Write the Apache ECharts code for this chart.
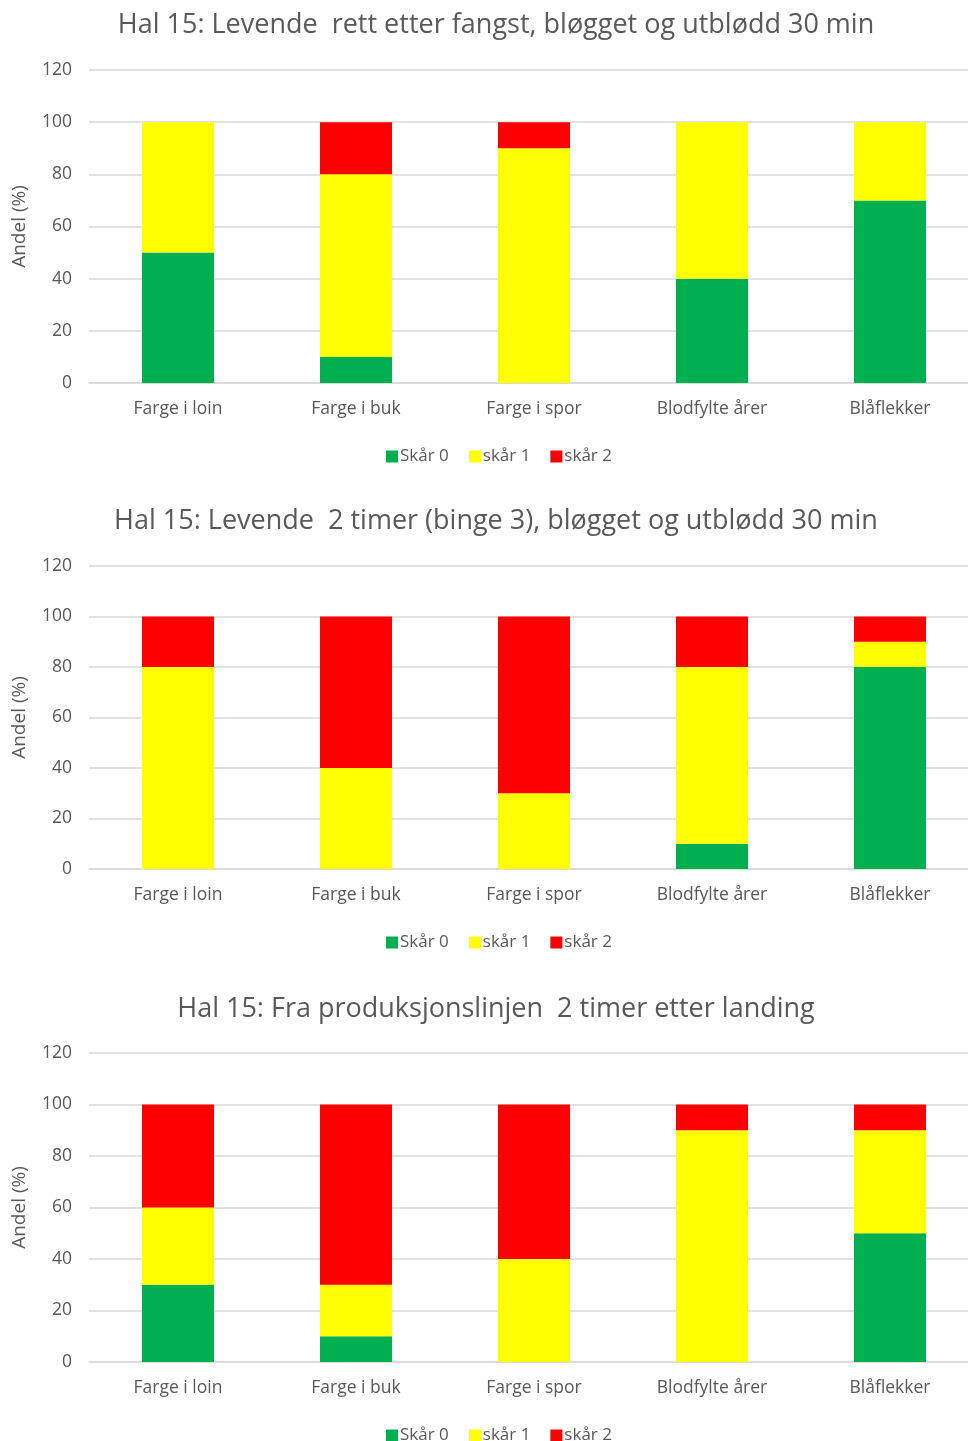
<!DOCTYPE html>
<html>
<head>
<meta charset="utf-8">
<script src="https://cdn.jsdelivr.net/npm/echarts@6/dist/echarts.min.js"></script>
<style>
  html, body { margin: 0; padding: 0; background: #fff; }
  #main { width: 968px; height: 1441px; }
</style>
</head>
<body>
<div id="main"></div>
<script>
// categories and series values
var categories = ['Farge i loin', 'Farge i buk', 'Farge i spor', 'Blodfylte årer', 'Blåflekker'];
var seriesNames = ['Skår 0', 'skår 1', 'skår 2'];
var titles = [
  'Hal 15: Levende  rett etter fangst, bløgget og utblødd 30 min',
  'Hal 15: Levende  2 timer (binge 3), bløgget og utblødd 30 min',
  'Hal 15: Fra produksjonslinjen  2 timer etter landing'
];
var yTicks = [0, 20, 40, 60, 80, 100, 120];

// chart 1
var c1Skar0 = [50, 10, 0, 40, 70];
var c1Skar1 = [50, 70, 90, 60, 30];
var c1Skar2 = [0, 20, 10, 0, 0];
// chart 2
var c2Skar0 = [0, 0, 0, 10, 80];
var c2Skar1 = [80, 40, 30, 70, 10];
var c2Skar2 = [20, 60, 70, 20, 10];
// chart 3
var c3Skar0 = [30, 10, 0, 0, 50];
var c3Skar1 = [30, 20, 40, 90, 40];
var c3Skar2 = [40, 70, 60, 10, 10];

var chartData = [
  [c1Skar0, c1Skar1, c1Skar2],
  [c2Skar0, c2Skar1, c2Skar2],
  [c3Skar0, c3Skar1, c3Skar2]
];

var colors = ['#00B050', '#FFFF00', '#FF0000'];
var textColor = '#595959';
var fontFamily = '"Open Sans", "Noto Sans", sans-serif';

// panel layout (plot top, plot height, title y, legend y)
var panels = [
  { top: 70, height: 313, titleTop: 7, legendTop: 443 },
  { top: 566, height: 303, titleTop: 503, legendTop: 929 },
  { top: 1053, height: 309, titleTop: 991, legendTop: 1422 }
];

var option = {
  animation: false,
  backgroundColor: '#fff',
  title: [],
  legend: [],
  grid: [],
  xAxis: [],
  yAxis: [],
  series: []
};

panels.forEach(function (p, i) {
  option.title.push({
    text: titles[i],
    left: 491,
    top: p.titleTop,
    textAlign: 'center',
    textStyle: { color: textColor, fontSize: 27, fontWeight: 'normal', fontFamily: fontFamily }
  });
  option.legend.push({
    data: seriesNames,
    left: 381,
    top: p.legendTop,
    itemWidth: 12,
    itemHeight: 12,
    itemGap: 20,
    icon: 'rect',
    selectedMode: false,
    textStyle: { color: textColor, fontSize: 17, fontFamily: fontFamily, padding: [0, 0, 0, -3] }
  });
  option.grid.push({
    left: 89,
    width: 890,
    top: p.top,
    height: p.height,
    outerBoundsMode: 'none',
    containLabel: false
  });
  option.xAxis.push({
    type: 'category',
    gridIndex: i,
    data: categories,
    axisLine: { lineStyle: { color: '#D9D9D9', width: 1.5 } },
    axisTick: { show: false },
    axisLabel: { color: textColor, fontSize: 17.5, fontFamily: fontFamily, margin: 17 }
  });
  option.yAxis.push({
    type: 'value',
    gridIndex: i,
    min: yTicks[0],
    max: yTicks[yTicks.length - 1],
    interval: 20,
    name: 'Andel (%)',
    nameLocation: 'middle',
    nameRotate: 90,
    nameGap: 60,
    nameTextStyle: { color: textColor, fontSize: 19, fontFamily: fontFamily },
    axisLine: { show: false },
    axisTick: { show: false },
    splitLine: { lineStyle: { color: '#D9D9D9', width: 1.5 } },
    axisLabel: { color: textColor, fontSize: 17.5, fontFamily: fontFamily, margin: 17 }
  });
  seriesNames.forEach(function (name, k) {
    option.series.push({
      name: name,
      type: 'bar',
      stack: 'panel' + i,
      xAxisIndex: i,
      yAxisIndex: i,
      barWidth: 72,
      itemStyle: { color: colors[k] },
      data: chartData[i][k]
    });
  });
});

var chart = echarts.init(document.getElementById('main'));
chart.setOption(option);
</script>
</body>
</html>
